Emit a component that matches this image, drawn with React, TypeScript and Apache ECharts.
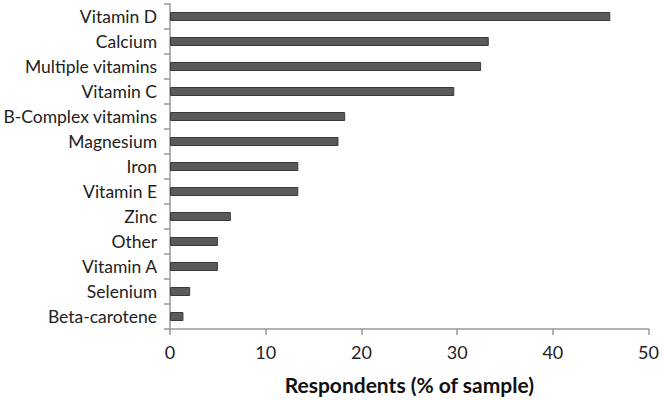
import React, { useEffect, useRef } from "react";
import * as echarts from "echarts";

const categories = [
  "Vitamin D",
  "Calcium",
  "Multiple vitamins",
  "Vitamin C",
  "B-Complex vitamins",
  "Magnesium",
  "Iron",
  "Vitamin E",
  "Zinc",
  "Other",
  "Vitamin A",
  "Selenium",
  "Beta-carotene",
];
const values = [46.0, 33.3, 32.5, 29.7, 18.3, 17.6, 13.4, 13.4, 6.35, 5.0, 5.0, 2.1, 1.4];
const xTicks = [0, 10, 20, 30, 40, 50];

export default function App() {
  const ref = useRef<HTMLDivElement>(null);
  useEffect(() => {
    if (!ref.current) return;
    const chart = echarts.init(ref.current, undefined, { renderer: "svg" });
    const font = "Lato, 'Open Sans', sans-serif";
    chart.setOption({
      animation: false,
      grid: { left: 168, right: 12, top: 4, bottom: 67, containLabel: false },
      xAxis: {
        type: "value",
        min: xTicks[0],
        max: xTicks[xTicks.length - 1],
        interval: 10,
        name: "Respondents (% of sample)",
        nameLocation: "middle",
        nameGap: 45,
        nameTextStyle: { fontFamily: font, fontSize: 21, fontWeight: "bold", color: "#111" },
        axisLine: { show: true, lineStyle: { color: "#999", width: 1.5 } },
        axisTick: { show: true, length: 6, lineStyle: { color: "#999", width: 1.5 } },
        axisLabel: { fontFamily: font, fontSize: 18, color: "#222", margin: 14 },
        splitLine: { show: false },
      },
      yAxis: {
        type: "category",
        data: [...categories].reverse(),
        axisLine: { show: true, lineStyle: { color: "#999", width: 1.5 } },
        axisTick: { show: true, length: 6, lineStyle: { color: "#999", width: 1.5 } },
        axisLabel: { fontFamily: font, fontSize: 17.5, color: "#222", margin: 13 },
      },
      series: [
        {
          type: "bar",
          data: [...values].reverse(),
          barWidth: 9,
          itemStyle: { color: "#5a5a5a", borderColor: "#3a3a3a", borderWidth: 1 },
        },
      ],
    });
    return () => chart.dispose();
  }, []);
  return <div ref={ref} style={{ width: 662, height: 400, position: "absolute", left: 0, top: 0, background: "#fff" }} />;
}
